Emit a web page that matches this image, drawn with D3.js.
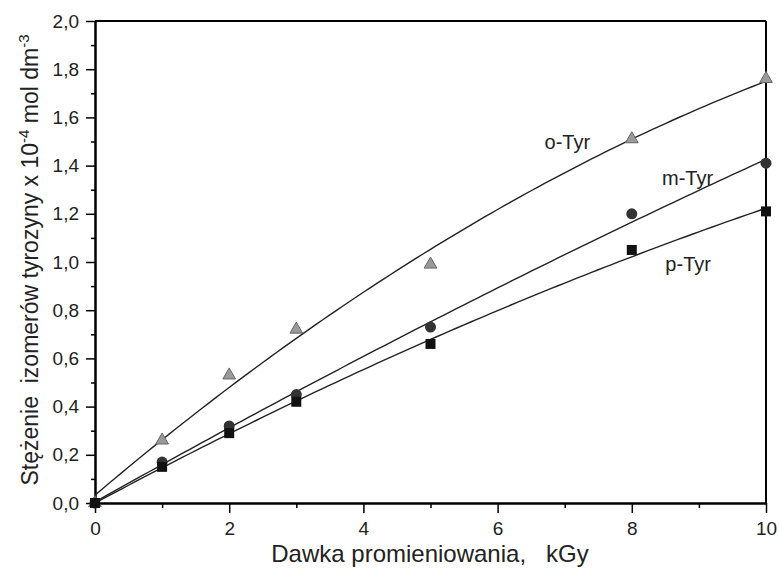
<!DOCTYPE html>
<html>
<head>
<meta charset="utf-8">
<script src="https://cdn.jsdelivr.net/npm/d3@7"></script>
<style>
  body { margin: 0; background: #fff; }
  svg { font-family: "Liberation Sans", Arial, sans-serif; }
</style>
</head>
<body>
<div id="chart"></div>
<script>
// dawki promieniowania (kGy) i stężenia izomerów
const dose = [0, 1, 2, 3, 5, 8, 10];
const oTyr = [0, 0.26, 0.53, 0.72, 0.99, 1.51, 1.76];
const mTyr = [0, 0.17, 0.32, 0.45, 0.73, 1.20, 1.41];
const pTyr = [0, 0.15, 0.29, 0.42, 0.66, 1.05, 1.21];
const seriesNames = ["o-Tyr", "m-Tyr", "p-Tyr"];
const xTicks = [0, 2, 4, 6, 8, 10];
const xMinor = [1, 3, 5, 7, 9];
const yTicks = [0, 0.2, 0.4, 0.6, 0.8, 1.0, 1.2, 1.4, 1.6, 1.8, 2.0];
const yMinor = [0.1, 0.3, 0.5, 0.7, 0.9, 1.1, 1.3, 1.5, 1.7, 1.9];

// dopasowanie wielomianem 2. stopnia (najmniejsze kwadraty)
function quadFit(xs, ys) {
  let s = [0, 0, 0, 0, 0], t = [0, 0, 0];
  xs.forEach((x, i) => {
    for (let k = 0; k < 5; k++) s[k] += Math.pow(x, k);
    for (let k = 0; k < 3; k++) t[k] += Math.pow(x, k) * ys[i];
  });
  const M = [[s[0], s[1], s[2], t[0]], [s[1], s[2], s[3], t[1]], [s[2], s[3], s[4], t[2]]];
  for (let i = 0; i < 3; i++) {
    for (let j = i + 1; j < 3; j++) {
      const f = M[j][i] / M[i][i];
      for (let k = i; k < 4; k++) M[j][k] -= f * M[i][k];
    }
  }
  const c = [0, 0, 0];
  for (let i = 2; i >= 0; i--) {
    let v = M[i][3];
    for (let k = i + 1; k < 3; k++) v -= M[i][k] * c[k];
    c[i] = v / M[i][i];
  }
  return x => c[0] + c[1] * x + c[2] * x * x;
}

const W = 779, H = 579;
const margin = { top: 21, right: 13, bottom: 76, left: 95 };
const width = W - margin.left - margin.right,
      height = H - margin.top - margin.bottom;

const svg = d3.select("#chart").append("svg")
  .attr("width", W).attr("height", H);
const g = svg.append("g").attr("transform", `translate(${margin.left},${margin.top})`);

const x = d3.scaleLinear().domain([0, 10]).range([0, width]);
const y = d3.scaleLinear().domain([0, 2]).range([height, 0]);
const fmt = d => d3.format(".1f")(d).replace(".", ",");

// osie
g.append("g").attr("transform", `translate(0,${height})`)
  .call(d3.axisBottom(x).tickValues(xTicks).tickSize(10).tickSizeOuter(0).tickPadding(9).tickFormat(d3.format("d")));
g.append("g").attr("transform", `translate(0,${height})`)
  .call(d3.axisBottom(x).tickValues(xMinor).tickSize(5).tickSizeOuter(0).tickFormat(""));
g.append("g")
  .call(d3.axisLeft(y).tickValues(yTicks).tickSize(9).tickSizeOuter(0).tickPadding(7).tickFormat(fmt));
g.append("g")
  .call(d3.axisLeft(y).tickValues(yMinor).tickSize(4).tickSizeOuter(0).tickFormat(""));

g.selectAll(".domain").attr("stroke", "#000").attr("stroke-width", 2);
g.selectAll(".tick line").attr("stroke", "#000").attr("stroke-width", 1.5);
g.selectAll(".tick text").attr("fill", "#222").style("font-size", "19px");

// ramka
g.append("line").attr("x1", 0).attr("x2", width).attr("y1", 0).attr("y2", 0)
  .attr("stroke", "#000").attr("stroke-width", 2);
g.append("line").attr("x1", width).attr("x2", width).attr("y1", 0).attr("y2", height)
  .attr("stroke", "#000").attr("stroke-width", 2);

// krzywe dopasowania
const line = d3.line().x(d => x(d[0])).y(d => y(d[1]));
const grid = d3.range(0, 10.01, 0.1);
[oTyr, mTyr, pTyr].forEach(vals => {
  const f = quadFit(dose, vals);
  g.append("path")
    .datum(grid.map(v => [v, f(v)]))
    .attr("fill", "none").attr("stroke", "#222").attr("stroke-width", 1.4)
    .attr("d", line);
});

// punkty
g.selectAll(".tri").data(dose.map((d, i) => [d, oTyr[i]])).enter()
  .append("path")
  .attr("transform", d => `translate(${x(d[0])},${y(d[1])})`)
  .attr("d", d3.symbol().type(d3.symbolTriangle).size(70))
  .attr("fill", "#9a9a9a").attr("stroke", "#666").attr("stroke-width", 1);
g.selectAll(".circ").data(dose.map((d, i) => [d, mTyr[i]])).enter()
  .append("circle")
  .attr("cx", d => x(d[0])).attr("cy", d => y(d[1])).attr("r", 5.5)
  .attr("fill", "#333");
g.selectAll(".sq").data(dose.map((d, i) => [d, pTyr[i]])).enter()
  .append("path")
  .attr("transform", d => `translate(${x(d[0])},${y(d[1])})`)
  .attr("d", d3.symbol().type(d3.symbolSquare).size(100))
  .attr("fill", "#111");

// etykiety serii
const labelPos = [[6.7, 1.50], [8.45, 1.35], [8.5, 0.99]];
seriesNames.forEach((n, i) => {
  g.append("text")
    .attr("x", x(labelPos[i][0])).attr("y", y(labelPos[i][1]))
    .attr("dy", "0.35em")
    .style("font-size", "20px").attr("fill", "#222")
    .text(n);
});

// tytuły osi
svg.append("text")
  .attr("x", 430).attr("y", 562)
  .attr("text-anchor", "middle")
  .style("font-size", "24px").style("white-space", "pre").attr("fill", "#222")
  .text("Dawka promieniowania,   kGy");

const yt = svg.append("text")
  .attr("transform", `translate(38,260) rotate(-90)`)
  .attr("text-anchor", "middle")
  .style("font-size", "23px").style("white-space", "pre").attr("fill", "#222");
yt.append("tspan").text("Stężenie  izomerów tyrozyny x 10");
yt.append("tspan").attr("dy", "-9").style("font-size", "15px").text("-4");
yt.append("tspan").attr("dy", "9").text(" mol dm");
yt.append("tspan").attr("dy", "-9").style("font-size", "15px").text("-3");
</script>
</body>
</html>
